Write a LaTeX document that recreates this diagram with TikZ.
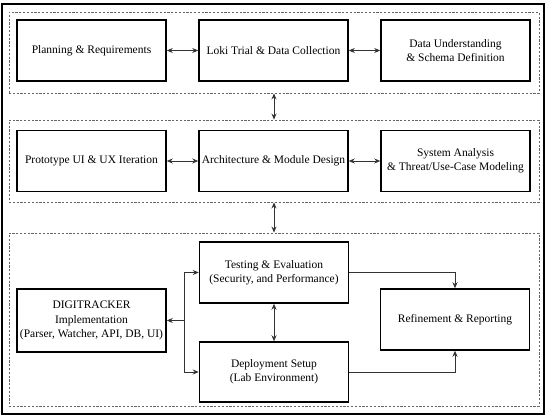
\documentclass[tikz,border=0pt]{standalone}
\usepackage{fontspec}
\setmainfont{Liberation Serif}
\usetikzlibrary{arrows.meta}
\begin{document}
\begin{tikzpicture}[x=1pt,y=-1pt,
  box/.style={draw=black, line width=1.5pt, align=center, inner sep=1pt,
    minimum width=149pt, minimum height=61pt, font=\fontsize{11.5}{14.3}\selectfont},
  grp/.style={draw=black!60, line width=0.9pt, dash pattern=on 2.2pt off 1.6pt, inner sep=0pt},
  conn/.style={draw=black!80, line width=0.8pt, -{Stealth[length=6pt,width=5pt]}},
  biconn/.style={draw=black!80, line width=0.8pt, {Stealth[length=6pt,width=5pt]}-{Stealth[length=6pt,width=5pt]}}
]
\useasboundingbox (0,0) rectangle (550,420);
\node[draw=black, line width=1.3pt, minimum width=542pt, minimum height=410pt, inner sep=0pt] (frame) at (273,209) {};
% groups
\node[grp, minimum width=530pt, minimum height=81pt] (g1) at (274,52.5) {};
\node[grp, minimum width=530pt, minimum height=82pt] (g2) at (274,161) {};
\node[grp, minimum width=530pt, minimum height=173pt] (g3) at (274,319.5) {};
% row 1
\node[box] (plan) at (91.5,50.5) {Planning \& Requirements};
\node[box] (loki) at (273.5,50.5) {Loki Trial \& Data Collection};
\node[box] (data) at (455.5,50.5) {Data Understanding\\\& Schema Definition};
% row 2
\node[box] (proto) at (91.5,161) {Prototype UI \& UX Iteration};
\node[box] (arch) at (273.5,161) {Architecture \& Module Design};
\node[box] (sys) at (455.5,161) {System Analysis\\\& Threat/Use-Case Modeling};
% row 3
\node[box] (test) at (274,272.5) {Testing \& Evaluation\\(Security, and Performance)};
\node[box, minimum height=60pt] (dep) at (274,372) {Deployment Setup\\(Lab Environment)};
\node[box, minimum height=63pt] (dig) at (91.5,320.5) {DIGITRACKER\\Implementation\\(Parser, Watcher, API, DB, UI)};
\node[box] (ref) at (455,319.5) {Refinement \& Reporting};
\coordinate (j) at (184,320.5);
% connectors
\draw[biconn] (plan) -- (loki);
\draw[biconn] (loki) -- (data);
\draw[biconn] (proto) -- (arch);
\draw[biconn] (arch) -- (sys);
\draw[biconn] (g1.south) -- (g2.north);
\draw[biconn] (g2.south) -- (g3.north);
\draw[biconn] (test) -- (dep);
\draw[conn] (j) -- (dig.east);
\draw[conn] (j) |- (test.west);
\draw[conn] (j) |- (dep.west);
\draw[conn] (test.east) -| (ref.north);
\draw[conn] (dep.east) -| (ref.south);
\end{tikzpicture}
\end{document}
